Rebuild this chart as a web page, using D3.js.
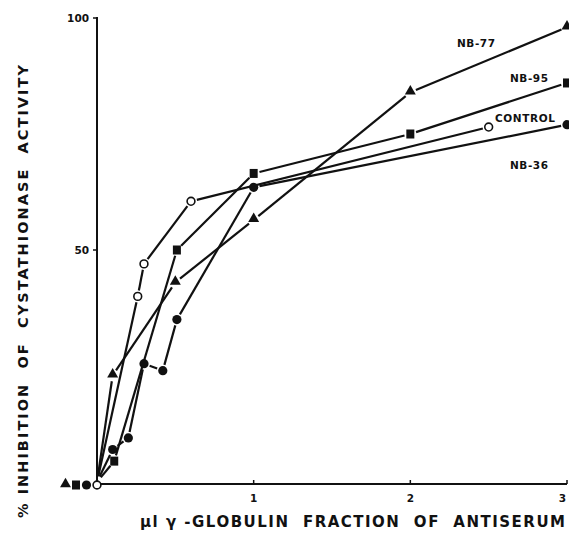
<!DOCTYPE html>
<html>
<head>
<meta charset="utf-8">
<script src="https://cdn.jsdelivr.net/npm/d3@7"></script>
<style>
  html, body { margin:0; padding:0; background:#fff; }
  svg text { font-family: "DejaVu Sans", "Liberation Sans", sans-serif; font-weight:bold; fill:#111; white-space:pre; }
</style>
</head>
<body>
<svg id="chart" width="569" height="533"></svg>
<script>
// values (µl antiserum, % inhibition)
const nb77X = [0, 0.1, 0.5, 1, 2, 3];
const nb77Y = [0, 23, 43, 56.5, 84, 98];
const nb95X = [0, 0.11, 0.51, 1, 2, 3];
const nb95Y = [0, 4.5, 50, 66.5, 75, 86];
const ctrlX = [0, 0.26, 0.3, 0.6, 2.5];
const ctrlY = [0, 40, 47, 60.5, 76.5];
const nb36X = [0, 0.1, 0.2, 0.3, 0.42, 0.51, 1, 3];
const nb36Y = [0, 7, 9.5, 25.5, 24, 35, 63.5, 77];

const xTicks = [1, 2, 3];
const yTicks = [50, 100];

// zero: slot left of the origin where the zero-dose marker sits
const series = [
  { name:"NB-77",   xs:nb77X, ys:nb77Y, shape:"triangle", zero:3, label:[476, 43, 38] },
  { name:"NB-95",   xs:nb95X, ys:nb95Y, shape:"square",   zero:2, label:[529, 78, 38] },
  { name:"CONTROL", xs:ctrlX, ys:ctrlY, shape:"open",     zero:0, label:[525, 118, 60] },
  { name:"NB-36",   xs:nb36X, ys:nb36Y, shape:"circle",   zero:1, label:[529, 165, 38] }
];

const svg = d3.select("#chart");
const x = d3.scaleLinear().domain([0, 3]).range([97, 567]);
const y = d3.scaleLinear().domain([0, 100]).range([482, 18]);

// axes
svg.append("line").attr("x1", x(0)).attr("x2", x(0)).attr("y1", 17).attr("y2", 484)
  .attr("stroke","#111").attr("stroke-width",2);
svg.append("line").attr("x1", x(0)).attr("x2", x(3)).attr("y1", 484).attr("y2", 484)
  .attr("stroke","#111").attr("stroke-width",2);

svg.selectAll(".yt").data(yTicks).enter().append("line")
  .attr("x1", x(0)-4).attr("x2", x(0)).attr("y1", d=>y(d)).attr("y2", d=>y(d))
  .attr("stroke","#111").attr("stroke-width",1.5);
svg.selectAll(".ytl").data(yTicks).enter().append("text")
  .attr("x", 89).attr("y", d=>y(d)+4).attr("text-anchor","end")
  .attr("font-size",10.5).text(d=>d);

svg.selectAll(".xt").data(xTicks).enter().append("line")
  .attr("x1", d=>x(d)).attr("x2", d=>x(d)).attr("y1", 480).attr("y2", 484)
  .attr("stroke","#111").attr("stroke-width",1.5);
svg.selectAll(".xtl").data(xTicks).enter().append("text")
  .attr("x", d=>Math.min(x(d), 566)).attr("y", 502)
  .attr("text-anchor", d=>x(d) > 560 ? "end" : "middle")
  .attr("font-size",10.5).text(d=>d);

svg.append("text").attr("x", 140).attr("y", 527)
  .attr("font-size",15).attr("textLength",425).attr("lengthAdjust","spacing")
  .text("µl γ -GLOBULIN  FRACTION  OF  ANTISERUM");

svg.append("text").attr("transform","translate(28,518) rotate(-90)")
  .attr("font-size",14.5).attr("textLength",453).attr("lengthAdjust","spacing")
  .text("% INHIBITION  OF  CYSTATHIONASE  ACTIVITY");

// line segments stop short of the markers
const GAP = 6;
series.forEach(s => {
  const pts = s.xs.map((v,i) => [x(v), y(s.ys[i])]);
  for (let i = 1; i < pts.length; i++) {
    const [x1,y1] = pts[i-1], [x2,y2] = pts[i];
    const len = Math.hypot(x2-x1, y2-y1);
    if (len < GAP*2) continue;
    const ux = (x2-x1)/len, uy = (y2-y1)/len;
    svg.append("line")
      .attr("x1", x1+ux*GAP).attr("y1", y1+uy*GAP)
      .attr("x2", x2-ux*GAP).attr("y2", y2-uy*GAP)
      .attr("stroke","#111").attr("stroke-width",2.2);
  }
});

function marker(g, shape, cx, cy){
  if (shape === "triangle") {
    g.append("path").attr("d", d3.symbol(d3.symbolTriangle, 52)())
      .attr("transform", "translate("+cx+","+(cy-1)+")").attr("fill","#111");
  } else if (shape === "square") {
    g.append("rect").attr("x", cx-4).attr("y", cy-4.5).attr("width", 8).attr("height", 9)
      .attr("fill","#111");
  } else if (shape === "circle") {
    g.append("circle").attr("cx", cx).attr("cy", cy).attr("r", 4.6).attr("fill","#111");
  } else {
    g.append("circle").attr("cx", cx).attr("cy", cy).attr("r", 3.9)
      .attr("fill","#fff").attr("stroke","#111").attr("stroke-width",1.6);
  }
}

const gm = svg.append("g");
series.forEach(s => {
  s.xs.forEach((v, i) => {
    if (v === 0) {
      // zero-dose markers are set side by side left of the origin
      marker(gm, s.shape, x(0) - s.zero*10.5, 485);
    } else {
      marker(gm, s.shape, x(v), y(s.ys[i]));
    }
  });
  svg.append("text").attr("x", s.label[0] - s.label[2]/2).attr("y", s.label[1]+4)
    .attr("font-size",10.5).attr("textLength",s.label[2]).attr("lengthAdjust","spacing")
    .text(s.name);
});
</script>
</body>
</html>
